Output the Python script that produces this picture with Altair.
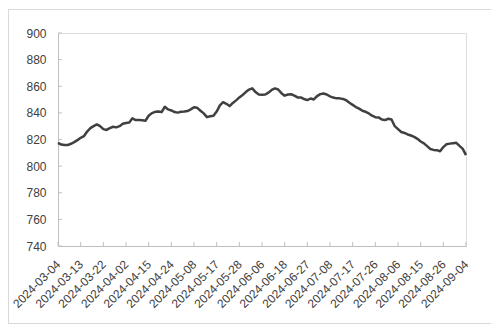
import altair as alt
import pandas as pd

# Chinese trading days 2024-03-04 .. 2024-09-04
holidays = ["2024-04-04", "2024-04-05", "2024-05-01", "2024-05-02", "2024-05-03", "2024-06-10"]
dates = [d.strftime("%Y-%m-%d") for d in pd.bdate_range("2024-03-04", "2024-09-04")
         if d.strftime("%Y-%m-%d") not in holidays]

values = [
    817.5, 816.2, 815.8, 815.8, 816.8, 818.0, 819.5, 821.3, 822.5, 826.0,
    828.5, 830.0, 831.3, 830.0, 827.8, 827.2, 828.6, 829.6, 829.1, 830.0,
    831.8, 832.4, 832.8, 835.9, 834.6, 834.6, 834.4, 834.1, 837.8, 839.8,
    840.8, 841.0, 840.6, 844.6, 842.6, 841.8, 840.6, 840.2, 840.8, 841.0,
    841.4, 842.6, 844.2, 843.8, 841.6, 839.6, 836.8, 837.4, 837.8, 841.0,
    845.6, 848.0, 846.8, 845.1, 847.5, 849.4, 851.6, 853.4, 855.6, 857.5,
    858.4, 855.6, 853.8, 853.6, 853.8, 855.2, 857.2, 858.4, 857.6, 854.8,
    852.9, 853.8, 854.0, 853.0, 851.6, 851.6, 850.4, 849.6, 850.8, 850.1,
    852.6, 854.1, 854.6, 853.8, 852.4, 851.5, 850.9, 850.9, 850.5, 849.5,
    847.6, 846.0, 844.4, 843.2, 841.6, 840.8, 839.6, 837.9, 836.8, 836.6,
    835.0, 834.6, 835.6, 835.0, 830.0, 827.8, 825.6, 824.9, 823.8, 823.0,
    822.0, 820.5, 818.5, 817.1, 815.0, 812.8, 812.2, 812.0, 811.2, 814.3,
    816.5, 816.9, 817.2, 817.5, 815.2, 813.0, 808.3,
]

tick_dates = dates[::7]
y_ticks = [740, 760, 780, 800, 820, 840, 860, 880, 900]

df = pd.DataFrame({"date": dates, "value": values})
ticks_x = pd.DataFrame({"date": tick_dates})
ticks_y = pd.DataFrame({"v": y_ticks})

W, H = 408, 213
FONT = "Liberation Sans"
TXT = "#404040"
AX = "#bfbfbf"

xscale = alt.Scale(type="point", padding=0, domain=dates)
yscale = alt.Scale(domain=[740, 900], nice=False, zero=False)

x_axis = alt.Axis(values=tick_dates, title=None, labelAngle=315, labelAlign="right",
                  labelBaseline="middle", labelPadding=16, ticks=False, labelOverlap=False,
                  domainColor=AX, labelColor=TXT, labelFont=FONT, labelFontSize=12, grid=False)
y_axis = alt.Axis(values=y_ticks, title=None, ticks=False, labelPadding=12, labelOverlap=False,
                  domainColor=AX, labelColor=TXT, labelFont=FONT, labelFontSize=12, grid=False)

line = alt.Chart(df).mark_line(color="#404040", strokeWidth=2.5, strokeJoin="round").encode(
    x=alt.X("date:O", scale=xscale, sort=None, axis=x_axis),
    y=alt.Y("value:Q", scale=yscale, axis=y_axis),
)

xt = alt.Chart(ticks_x).mark_rule(color=AX, strokeWidth=1).encode(
    x=alt.X("date:O", scale=xscale, sort=None, axis=x_axis),
    y=alt.value(H), y2=alt.value(H - 4),
)

yt = alt.Chart(ticks_y).mark_rule(color=AX, strokeWidth=1).encode(
    y=alt.Y("v:Q", scale=yscale, axis=y_axis),
    x=alt.value(0), x2=alt.value(4),
)

border = alt.Chart(ticks_y).mark_rect(fill=None, fillOpacity=0, stroke="#d9d9d9", strokeWidth=1).encode(
    x=alt.value(-49.5), x2=alt.value(433.5), y=alt.value(-23.5), y2=alt.value(290.5),
)

chart = alt.layer(line, border, xt, yt).properties(
    width=W, height=H,
    autosize=alt.AutoSizeParams(type="none"),
    padding={"left": 50, "top": 25, "right": 25, "bottom": 79},
).configure_view(stroke=None).configure(background="white")

chart.save("out.html", embed_options={"renderer": "svg", "actions": False})
